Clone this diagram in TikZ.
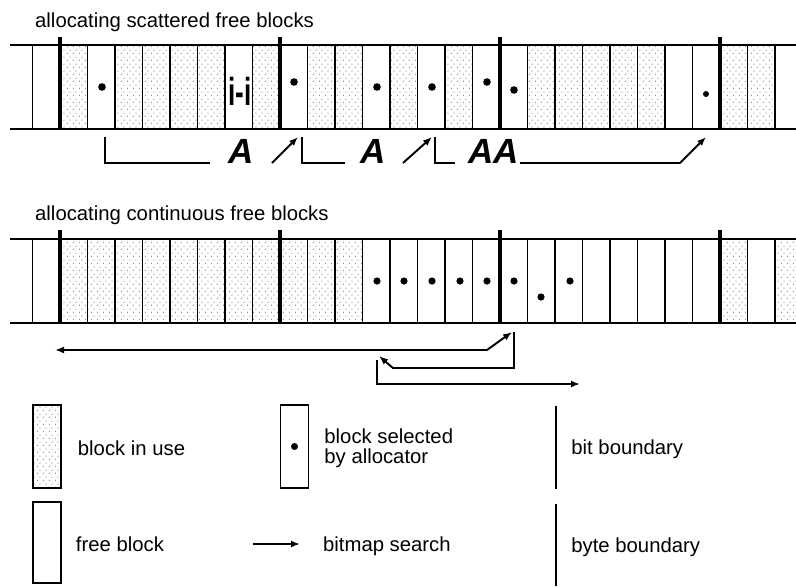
\documentclass[tikz,border=0pt]{standalone}
\usepackage{fontspec}
\setmainfont{Liberation Sans}
\usetikzlibrary{arrows.meta, positioning, calc, patterns.meta}

\tikzdeclarepattern{
    name=speckle,
    type=uncolored,
    bounding box={(0pt,0pt) and (6pt,7pt)},
    tile size={(6pt,7pt)},
    code={\fill (1.5pt,2pt) circle (0.55pt); \fill (4.5pt,5.5pt) circle (0.55pt);}
}

\begin{document}
\begin{tikzpicture}[
    x=1pt, y=-1pt,
    font=\fontsize{20.3}{20}\selectfont,
    rail/.style={line width=2.4pt},
    bitline/.style={line width=1.5pt},
    byteline/.style={line width=3.2pt},
    inuse/.style={pattern=speckle, pattern color=black!75},
    search/.style={-{Latex[length=9pt,width=7pt]}, line width=1.9pt},
    lbl/.style={inner sep=3pt, align=left, yshift=-2pt},
    ocr/.style={font=\fontsize{35}{35}\selectfont\bfseries\itshape, inner sep=0pt, anchor=base},
    legbox/.style={draw, line width=1.5pt, minimum width=28pt, minimum height=83pt, inner sep=0pt},
]

\useasboundingbox (0,0) rectangle (796,587);

% ============================================================
% Row 1: scattered free blocks
% ============================================================

\node[anchor=base west, inner sep=0pt] (ttlScatter) at (35,27) {allocating scattered free blocks};

\foreach \b in {1,3,4,5,6,8,10,11,13,15,18,19,20,21,22,25,26}
    \fill[inuse] (32.5+27.5*\b,45) rectangle (60+27.5*\b,129);
\foreach \k in {-1,...,26}
    \draw[bitline] (60+27.5*\k,45) -- (60+27.5*\k,129);
\foreach \k in {0,8,16,24}
    \draw[byteline] (60+27.5*\k,37) -- (60+27.5*\k,129);
\draw[rail] (10,45) -- (796,45) (10,129) -- (796,129);

\foreach \x/\y in {102/87, 294/82, 377/87, 432/87, 487/82, 514/90}
    \fill (\x,\y) circle (3.8pt);
\fill (706,94) circle (3pt);

\node[font=\fontsize{26}{26}\selectfont\bfseries, inner sep=0pt] (junk) at (240,91) {\scalebox{1}[1.5]{i-i}};

% search path under the bitmap
\coordinate (a0) at (105,137);
\coordinate (a1) at (210,163);
\coordinate (a2) at (272,163);
\coordinate (a3) at (298,137);
\coordinate (b0) at (302,137);
\coordinate (b1) at (345,163);
\coordinate (b2) at (403,163);
\coordinate (b3) at (432,137);
\coordinate (c0) at (435,137);
\coordinate (c1) at (455,163);
\coordinate (c2) at (520,163);
\coordinate (c3) at (680,163);
\coordinate (c4) at (706,137);

\draw[line width=1.9pt] (a0) |- (a1);
\node[ocr] (upA) at (241,163) {A};
\draw[search] (a2) -- (a3);
\draw[line width=1.9pt] (b0) |- (b1);
\node[ocr] (upB) at (373,163) {A};
\draw[search] (b2) -- (b3);
\draw[line width=1.9pt] (c0) |- (c1);
\node[ocr] (upC) at (494,163) {AA};
\draw[search] (c2) -- (c3) -- (c4);

% ============================================================
% Row 2: continuous free blocks
% ============================================================

\node[anchor=base west, inner sep=0pt] (ttlCont) at (35,220) {allocating continuous free blocks};

\foreach \b in {1,...,11,25}
    \fill[inuse] (32.5+27.5*\b,239) rectangle (60+27.5*\b,323);
\fill[inuse] (775,239) rectangle (796,323);
\foreach \k in {-1,...,26}
    \draw[bitline] (60+27.5*\k,239) -- (60+27.5*\k,323);
\foreach \k in {0,8,16,24}
    \draw[byteline] (60+27.5*\k,230) -- (60+27.5*\k,323);
\draw[rail] (10,239) -- (796,239) (10,323) -- (796,323);

\foreach \x/\y in {377/281, 404/281, 432/281, 460/281, 487/281, 514/281, 541/297, 570/281}
    \fill (\x,\y) circle (3.6pt);

\coordinate (d0) at (55,350);
\coordinate (d1) at (487,350);
\coordinate (d2) at (512,332);
\coordinate (e0) at (514,332);
\coordinate (e2) at (393,368);
\coordinate (e3) at (379,356);
\coordinate (f0) at (377,360);
\coordinate (f1) at (580,384);

\draw[search, {Latex[length=9pt,width=7pt]}-{Latex[length=9pt,width=7pt]}] (d0) -- (d1) -- (d2);
\draw[search] (e0) |- (e2) -- (e3);
\draw[search] (f0) |- (f1);

% ============================================================
% Legend
% ============================================================

\node[legbox, inuse] (lgUse) at (47,446.5) {};
\node[lbl, right=13pt of lgUse] (lgUseTxt) {block in use};

\node[legbox] (lgSel) at (294.5,446.5) {};
\fill (lgSel.center) circle (3.5pt);
\node[lbl, right=12pt of lgSel] (lgSelTxt) {block selected\\by allocator};

\node[minimum height=83pt, minimum width=0pt, inner sep=0pt] (lgBit) at (556,447.5) {};
\draw[bitline] (lgBit.north) -- (lgBit.south);
\node[lbl, right=12pt of lgBit] (lgBitTxt) {bit boundary};

\node[legbox, minimum height=81pt] (lgFree) at (47,542.5) {};
\node[lbl, right=11pt of lgFree] (lgFreeTxt) {free block};

\coordinate (lgArrA) at (253,544);
\coordinate (lgArrB) at (300,544);
\draw[search] (lgArrA) -- (lgArrB);
\node[lbl, right=20pt of lgArrB] (lgArrTxt) {bitmap search};

\node[minimum height=82pt, minimum width=0pt, inner sep=0pt] (lgByte) at (556,545) {};
\draw[byteline, line width=2.6pt] (lgByte.north) -- (lgByte.south);
\node[lbl, right=12pt of lgByte] (lgByteTxt) {byte boundary};

\end{tikzpicture}
\end{document}
